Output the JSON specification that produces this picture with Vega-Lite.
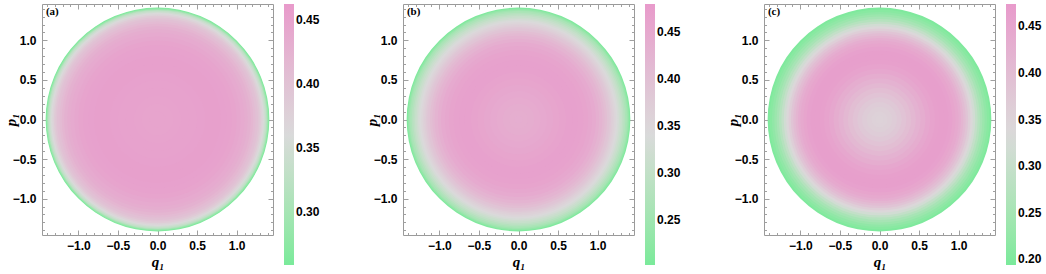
{
  "$schema": "https://vega.github.io/schema/vega-lite/v6.json",
  "padding": {"left": 2, "top": 2, "right": 0, "bottom": 0},
  "background": "white",
  "datasets": {
    "a": [
      {"r": 1.414, "v": 0.262}, {"r": 1.405, "v": 0.28}, {"r": 1.395, "v": 0.3}, {"r": 1.385, "v": 0.32},
      {"r": 1.375, "v": 0.335}, {"r": 1.36, "v": 0.35}, {"r": 1.345, "v": 0.362}, {"r": 1.33, "v": 0.373},
      {"r": 1.31, "v": 0.385}, {"r": 1.29, "v": 0.395}, {"r": 1.27, "v": 0.403}, {"r": 1.24, "v": 0.412},
      {"r": 1.21, "v": 0.42}, {"r": 1.18, "v": 0.427}, {"r": 1.14, "v": 0.433}, {"r": 1.1, "v": 0.438},
      {"r": 1.05, "v": 0.443}, {"r": 1.0, "v": 0.447}, {"r": 0.94, "v": 0.45}, {"r": 0.87, "v": 0.452},
      {"r": 0.8, "v": 0.453}, {"r": 0.7, "v": 0.453}, {"r": 0.6, "v": 0.452}, {"r": 0.5, "v": 0.451},
      {"r": 0.4, "v": 0.45}, {"r": 0.3, "v": 0.449}, {"r": 0.2, "v": 0.448}, {"r": 0.1, "v": 0.448}
    ],
    "b": [
      {"r": 1.414, "v": 0.21}, {"r": 1.4, "v": 0.23}, {"r": 1.385, "v": 0.25}, {"r": 1.37, "v": 0.265},
      {"r": 1.35, "v": 0.28}, {"r": 1.33, "v": 0.295}, {"r": 1.31, "v": 0.308}, {"r": 1.29, "v": 0.32},
      {"r": 1.27, "v": 0.332}, {"r": 1.25, "v": 0.343}, {"r": 1.23, "v": 0.353}, {"r": 1.21, "v": 0.362},
      {"r": 1.19, "v": 0.371}, {"r": 1.17, "v": 0.381}, {"r": 1.15, "v": 0.39}, {"r": 1.12, "v": 0.403},
      {"r": 1.09, "v": 0.415}, {"r": 1.06, "v": 0.426}, {"r": 1.02, "v": 0.437}, {"r": 0.98, "v": 0.446},
      {"r": 0.93, "v": 0.454}, {"r": 0.88, "v": 0.46}, {"r": 0.82, "v": 0.464}, {"r": 0.75, "v": 0.466},
      {"r": 0.68, "v": 0.465}, {"r": 0.6, "v": 0.462}, {"r": 0.52, "v": 0.458}, {"r": 0.44, "v": 0.453},
      {"r": 0.36, "v": 0.448}, {"r": 0.28, "v": 0.444}, {"r": 0.2, "v": 0.441}, {"r": 0.12, "v": 0.439},
      {"r": 0.05, "v": 0.438}
    ],
    "c": [
      {"r": 1.414, "v": 0.2}, {"r": 1.39, "v": 0.21}, {"r": 1.36, "v": 0.222}, {"r": 1.33, "v": 0.236},
      {"r": 1.3, "v": 0.252}, {"r": 1.27, "v": 0.272}, {"r": 1.24, "v": 0.295}, {"r": 1.21, "v": 0.318},
      {"r": 1.18, "v": 0.34}, {"r": 1.15, "v": 0.362}, {"r": 1.12, "v": 0.383}, {"r": 1.09, "v": 0.401},
      {"r": 1.06, "v": 0.417}, {"r": 1.03, "v": 0.431}, {"r": 1.0, "v": 0.442}, {"r": 0.96, "v": 0.452},
      {"r": 0.92, "v": 0.459}, {"r": 0.87, "v": 0.463}, {"r": 0.82, "v": 0.464}, {"r": 0.76, "v": 0.461},
      {"r": 0.7, "v": 0.455}, {"r": 0.64, "v": 0.446}, {"r": 0.58, "v": 0.435}, {"r": 0.52, "v": 0.423},
      {"r": 0.46, "v": 0.41}, {"r": 0.4, "v": 0.397}, {"r": 0.34, "v": 0.385}, {"r": 0.28, "v": 0.375},
      {"r": 0.22, "v": 0.366}, {"r": 0.16, "v": 0.359}, {"r": 0.1, "v": 0.354}, {"r": 0.05, "v": 0.352}
    ]
  },
  "hconcat": [
    {
      "width": 231, "height": 231,
      "layer": [
        {
          "data": {"name": "a"},
          "mark": {"type": "point", "filled": true, "shape": "circle", "opacity": 1, "strokeWidth": 0},
          "encoding": {
            "x": {"datum": 0, "type": "quantitative", "scale": {"domain": [-1.46, 1.46], "nice": false, "zero": false},
              "axis": {"orient": "bottom", "title": "q₁", "values": [-1.4,-1.3,-1.2,-1.1,-1,-0.9,-0.8,-0.7,-0.6,-0.5,-0.4,-0.3,-0.2,-0.1,0,0.1,0.2,0.3,0.4,0.5,0.6,0.7,0.8,0.9,1,1.1,1.2,1.3,1.4],
                "labelExpr": "abs(datum.value*2 - round(datum.value*2)) < 0.001 ? format(datum.value, '.1f') : ''",
                "tickSize": {"condition": {"test": "abs(datum.value*2 - round(datum.value*2)) < 0.001", "value": -5}, "value": -2.5},
                "labelPadding": 10, "titlePadding": 1}},
            "y": {"datum": 0, "type": "quantitative", "scale": {"domain": [-1.46, 1.46], "nice": false, "zero": false},
              "axis": {"orient": "left", "title": "p₁", "values": [-1.4,-1.3,-1.2,-1.1,-1,-0.9,-0.8,-0.7,-0.6,-0.5,-0.4,-0.3,-0.2,-0.1,0,0.1,0.2,0.3,0.4,0.5,0.6,0.7,0.8,0.9,1,1.1,1.2,1.3,1.4],
                "labelExpr": "abs(datum.value*2 - round(datum.value*2)) < 0.001 ? format(datum.value, '.1f') : ''",
                "tickSize": {"condition": {"test": "abs(datum.value*2 - round(datum.value*2)) < 0.001", "value": -5}, "value": -2.5},
                "labelPadding": 11, "titlePadding": -6}},
            "size": {"field": "r", "type": "quantitative", "scale": {"type": "pow", "exponent": 2, "domain": [0, 1.46], "range": [0, 53361]}, "legend": null},
            "color": {"field": "v", "type": "quantitative", "scale": {"domain": [0.259, 0.36075, 0.4625], "range": ["#7aea9a", "#dadada", "#e89acb"]},
              "legend": {"values": [0.3, 0.35, 0.4, 0.45], "format": ".2f"}},
            "order": {"field": "r", "sort": "descending"}
          }
        },
        {
          "data": {"values": [{}]},
          "mark": {"type": "text", "text": "(a)", "font": "Liberation Serif", "fontWeight": "bold", "fontSize": 11, "align": "left", "baseline": "middle"},
          "encoding": {
            "x": {"datum": -1.41, "type": "quantitative", "scale": {"domain": [-1.46, 1.46], "nice": false, "zero": false},
              "axis": {"orient": "top", "title": null, "labels": false, "values": [-1.4,-1.3,-1.2,-1.1,-1,-0.9,-0.8,-0.7,-0.6,-0.5,-0.4,-0.3,-0.2,-0.1,0,0.1,0.2,0.3,0.4,0.5,0.6,0.7,0.8,0.9,1,1.1,1.2,1.3,1.4],
                "tickSize": {"condition": {"test": "abs(datum.value*2 - round(datum.value*2)) < 0.001", "value": -5}, "value": -2.5}}},
            "y": {"datum": 1.36, "type": "quantitative", "scale": {"domain": [-1.46, 1.46], "nice": false, "zero": false},
              "axis": {"orient": "right", "title": null, "labels": false, "values": [-1.4,-1.3,-1.2,-1.1,-1,-0.9,-0.8,-0.7,-0.6,-0.5,-0.4,-0.3,-0.2,-0.1,0,0.1,0.2,0.3,0.4,0.5,0.6,0.7,0.8,0.9,1,1.1,1.2,1.3,1.4],
                "tickSize": {"condition": {"test": "abs(datum.value*2 - round(datum.value*2)) < 0.001", "value": -5}, "value": -2.5}}}
          }
        }
      ],
      "resolve": {"axis": {"x": "independent", "y": "independent"}}
    },
    {
      "width": 231, "height": 231,
      "layer": [
        {
          "data": {"name": "b"},
          "mark": {"type": "point", "filled": true, "shape": "circle", "opacity": 1, "strokeWidth": 0},
          "encoding": {
            "x": {"datum": 0, "type": "quantitative", "scale": {"domain": [-1.46, 1.46], "nice": false, "zero": false},
              "axis": {"orient": "bottom", "title": "q₁", "values": [-1.4,-1.3,-1.2,-1.1,-1,-0.9,-0.8,-0.7,-0.6,-0.5,-0.4,-0.3,-0.2,-0.1,0,0.1,0.2,0.3,0.4,0.5,0.6,0.7,0.8,0.9,1,1.1,1.2,1.3,1.4],
                "labelExpr": "abs(datum.value*2 - round(datum.value*2)) < 0.001 ? format(datum.value, '.1f') : ''",
                "tickSize": {"condition": {"test": "abs(datum.value*2 - round(datum.value*2)) < 0.001", "value": -5}, "value": -2.5},
                "labelPadding": 10, "titlePadding": 1}},
            "y": {"datum": 0, "type": "quantitative", "scale": {"domain": [-1.46, 1.46], "nice": false, "zero": false},
              "axis": {"orient": "left", "title": "p₁", "values": [-1.4,-1.3,-1.2,-1.1,-1,-0.9,-0.8,-0.7,-0.6,-0.5,-0.4,-0.3,-0.2,-0.1,0,0.1,0.2,0.3,0.4,0.5,0.6,0.7,0.8,0.9,1,1.1,1.2,1.3,1.4],
                "labelExpr": "abs(datum.value*2 - round(datum.value*2)) < 0.001 ? format(datum.value, '.1f') : ''",
                "tickSize": {"condition": {"test": "abs(datum.value*2 - round(datum.value*2)) < 0.001", "value": -5}, "value": -2.5},
                "labelPadding": 11, "titlePadding": -6}},
            "size": {"field": "r", "type": "quantitative", "scale": {"type": "pow", "exponent": 2, "domain": [0, 1.46], "range": [0, 53361]}, "legend": null},
            "color": {"field": "v", "type": "quantitative", "scale": {"domain": [0.202, 0.341, 0.48], "range": ["#7aea9a", "#dadada", "#e89acb"]},
              "legend": {"values": [0.25, 0.3, 0.35, 0.4, 0.45], "format": ".2f"}},
            "order": {"field": "r", "sort": "descending"}
          }
        },
        {
          "data": {"values": [{}]},
          "mark": {"type": "text", "text": "(b)", "font": "Liberation Serif", "fontWeight": "bold", "fontSize": 11, "align": "left", "baseline": "middle"},
          "encoding": {
            "x": {"datum": -1.41, "type": "quantitative", "scale": {"domain": [-1.46, 1.46], "nice": false, "zero": false},
              "axis": {"orient": "top", "title": null, "labels": false, "values": [-1.4,-1.3,-1.2,-1.1,-1,-0.9,-0.8,-0.7,-0.6,-0.5,-0.4,-0.3,-0.2,-0.1,0,0.1,0.2,0.3,0.4,0.5,0.6,0.7,0.8,0.9,1,1.1,1.2,1.3,1.4],
                "tickSize": {"condition": {"test": "abs(datum.value*2 - round(datum.value*2)) < 0.001", "value": -5}, "value": -2.5}}},
            "y": {"datum": 1.36, "type": "quantitative", "scale": {"domain": [-1.46, 1.46], "nice": false, "zero": false},
              "axis": {"orient": "right", "title": null, "labels": false, "values": [-1.4,-1.3,-1.2,-1.1,-1,-0.9,-0.8,-0.7,-0.6,-0.5,-0.4,-0.3,-0.2,-0.1,0,0.1,0.2,0.3,0.4,0.5,0.6,0.7,0.8,0.9,1,1.1,1.2,1.3,1.4],
                "tickSize": {"condition": {"test": "abs(datum.value*2 - round(datum.value*2)) < 0.001", "value": -5}, "value": -2.5}}}
          }
        }
      ],
      "resolve": {"axis": {"x": "independent", "y": "independent"}}
    },
    {
      "width": 231, "height": 231,
      "layer": [
        {
          "data": {"name": "c"},
          "mark": {"type": "point", "filled": true, "shape": "circle", "opacity": 1, "strokeWidth": 0},
          "encoding": {
            "x": {"datum": 0, "type": "quantitative", "scale": {"domain": [-1.46, 1.46], "nice": false, "zero": false},
              "axis": {"orient": "bottom", "title": "q₁", "values": [-1.4,-1.3,-1.2,-1.1,-1,-0.9,-0.8,-0.7,-0.6,-0.5,-0.4,-0.3,-0.2,-0.1,0,0.1,0.2,0.3,0.4,0.5,0.6,0.7,0.8,0.9,1,1.1,1.2,1.3,1.4],
                "labelExpr": "abs(datum.value*2 - round(datum.value*2)) < 0.001 ? format(datum.value, '.1f') : ''",
                "tickSize": {"condition": {"test": "abs(datum.value*2 - round(datum.value*2)) < 0.001", "value": -5}, "value": -2.5},
                "labelPadding": 10, "titlePadding": 1}},
            "y": {"datum": 0, "type": "quantitative", "scale": {"domain": [-1.46, 1.46], "nice": false, "zero": false},
              "axis": {"orient": "left", "title": "p₁", "values": [-1.4,-1.3,-1.2,-1.1,-1,-0.9,-0.8,-0.7,-0.6,-0.5,-0.4,-0.3,-0.2,-0.1,0,0.1,0.2,0.3,0.4,0.5,0.6,0.7,0.8,0.9,1,1.1,1.2,1.3,1.4],
                "labelExpr": "abs(datum.value*2 - round(datum.value*2)) < 0.001 ? format(datum.value, '.1f') : ''",
                "tickSize": {"condition": {"test": "abs(datum.value*2 - round(datum.value*2)) < 0.001", "value": -5}, "value": -2.5},
                "labelPadding": 11, "titlePadding": -6}},
            "size": {"field": "r", "type": "quantitative", "scale": {"type": "pow", "exponent": 2, "domain": [0, 1.46], "range": [0, 53361]}, "legend": null},
            "color": {"field": "v", "type": "quantitative", "scale": {"domain": [0.194, 0.334, 0.474], "range": ["#7aea9a", "#dadada", "#e89acb"]},
              "legend": {"values": [0.2, 0.25, 0.3, 0.35, 0.4, 0.45], "format": ".2f"}},
            "order": {"field": "r", "sort": "descending"}
          }
        },
        {
          "data": {"values": [{}]},
          "mark": {"type": "text", "text": "(c)", "font": "Liberation Serif", "fontWeight": "bold", "fontSize": 11, "align": "left", "baseline": "middle"},
          "encoding": {
            "x": {"datum": -1.41, "type": "quantitative", "scale": {"domain": [-1.46, 1.46], "nice": false, "zero": false},
              "axis": {"orient": "top", "title": null, "labels": false, "values": [-1.4,-1.3,-1.2,-1.1,-1,-0.9,-0.8,-0.7,-0.6,-0.5,-0.4,-0.3,-0.2,-0.1,0,0.1,0.2,0.3,0.4,0.5,0.6,0.7,0.8,0.9,1,1.1,1.2,1.3,1.4],
                "tickSize": {"condition": {"test": "abs(datum.value*2 - round(datum.value*2)) < 0.001", "value": -5}, "value": -2.5}}},
            "y": {"datum": 1.36, "type": "quantitative", "scale": {"domain": [-1.46, 1.46], "nice": false, "zero": false},
              "axis": {"orient": "right", "title": null, "labels": false, "values": [-1.4,-1.3,-1.2,-1.1,-1,-0.9,-0.8,-0.7,-0.6,-0.5,-0.4,-0.3,-0.2,-0.1,0,0.1,0.2,0.3,0.4,0.5,0.6,0.7,0.8,0.9,1,1.1,1.2,1.3,1.4],
                "tickSize": {"condition": {"test": "abs(datum.value*2 - round(datum.value*2)) < 0.001", "value": -5}, "value": -2.5}}}
          }
        }
      ],
      "resolve": {"axis": {"x": "independent", "y": "independent"}}
    }
  ],
  "resolve": {"scale": {"color": "independent", "size": "independent", "x": "independent", "y": "independent"}},
  "config": {
    "view": {"stroke": "#9a9a9a", "strokeWidth": 1},
    "concat": {"spacing": 42},
    "axis": {"grid": false, "domain": false, "labelFont": "Liberation Sans", "labelFontWeight": "bold", "labelFontSize": 12, "labelColor": "#000",
      "tickColor": "#a0a0a0", "tickWidth": 1, "titleFont": "Liberation Serif", "titleFontStyle": "italic", "titleFontWeight": "bold", "titleFontSize": 15,
      "titleColor": "#000", "labelFlush": false, "labelOverlap": false},
    "legend": {"orient": "right", "offset": 10, "padding": 0, "gradientLength": 261, "gradientThickness": 10, "gradientStrokeWidth": 0,
      "labelFont": "Liberation Sans", "labelFontWeight": "bold", "labelFontSize": 12, "labelColor": "#000", "labelOffset": 4, "labelOverlap": false, "title": null}
  }
}
